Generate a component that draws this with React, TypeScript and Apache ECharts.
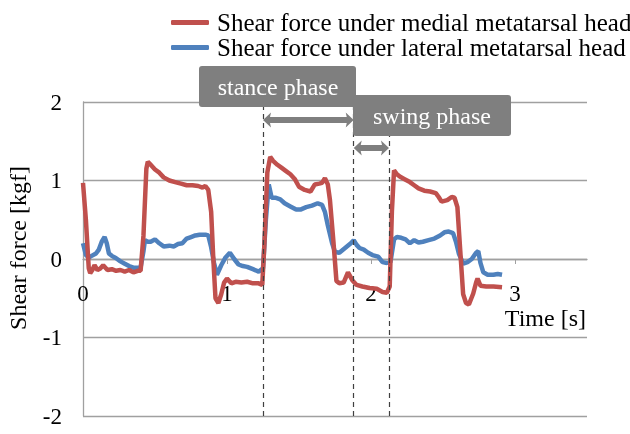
import React, { useEffect, useRef } from 'react';
import * as echarts from 'echarts';

const medialTime = [0.0, 0.02, 0.04, 0.05, 0.065, 0.08, 0.1, 0.12, 0.14, 0.17, 0.2, 0.23, 0.26, 0.29, 0.32, 0.35, 0.38, 0.4, 0.42, 0.44, 0.45, 0.47, 0.5, 0.53, 0.56, 0.6, 0.64, 0.68, 0.72, 0.76, 0.8, 0.83, 0.85, 0.87, 0.89, 0.905, 0.92, 0.94, 0.96, 0.98, 1.0, 1.03, 1.06, 1.1, 1.14, 1.18, 1.22, 1.245, 1.26, 1.28, 1.3, 1.32, 1.35, 1.38, 1.41, 1.44, 1.47, 1.5, 1.54, 1.58, 1.61, 1.64, 1.66, 1.68, 1.7, 1.715, 1.74, 1.76, 1.78, 1.81, 1.84, 1.87, 1.9, 1.94, 1.99, 2.04, 2.08, 2.11, 2.13, 2.145, 2.16, 2.18, 2.2, 2.23, 2.27, 2.3, 2.33, 2.37, 2.41, 2.45, 2.47, 2.49, 2.53, 2.56, 2.58, 2.6, 2.62, 2.64, 2.66, 2.68, 2.71, 2.73, 2.74, 2.76, 2.8, 2.85, 2.91];
const medialForce = [0.97, 0.5, -0.12, -0.18, -0.14, -0.08, -0.14, -0.12, -0.08, -0.14, -0.13, -0.15, -0.14, -0.16, -0.14, -0.17, -0.15, -0.15, 0.3, 1.15, 1.24, 1.2, 1.14, 1.1, 1.04, 1.0, 0.98, 0.96, 0.94, 0.94, 0.93, 0.91, 0.93, 0.88, 0.6, 0.0, -0.5, -0.56, -0.45, -0.3, -0.25, -0.31, -0.29, -0.3, -0.29, -0.31, -0.31, -0.33, 0.2, 1.1, 1.3, 1.25, 1.2, 1.16, 1.12, 1.08, 1.02, 0.92, 0.88, 0.86, 0.95, 0.96, 0.97, 1.03, 0.95, 0.75, 0.2, -0.28, -0.31, -0.3, -0.17, -0.27, -0.33, -0.35, -0.37, -0.38, -0.42, -0.43, -0.35, 0.6, 1.13, 1.08, 1.05, 1.02, 0.98, 0.94, 0.9, 0.87, 0.86, 0.84, 0.79, 0.73, 0.75, 0.79, 0.78, 0.66, 0.1, -0.45, -0.56, -0.58, -0.44, -0.3, -0.25, -0.34, -0.35, -0.35, -0.36];

const lateralTime = [0.0, 0.02, 0.04, 0.06, 0.09, 0.11, 0.13, 0.15, 0.165, 0.18, 0.2, 0.23, 0.26, 0.29, 0.32, 0.35, 0.38, 0.4, 0.42, 0.43, 0.45, 0.47, 0.5, 0.53, 0.56, 0.6, 0.63, 0.66, 0.69, 0.72, 0.75, 0.78, 0.81, 0.85, 0.87, 0.89, 0.91, 0.93, 0.96, 0.99, 1.02, 1.05, 1.08, 1.11, 1.14, 1.18, 1.22, 1.25, 1.27, 1.29, 1.31, 1.34, 1.37, 1.4, 1.44, 1.48, 1.51, 1.55, 1.59, 1.63, 1.66, 1.68, 1.7, 1.73, 1.75, 1.78, 1.82, 1.86, 1.88, 1.9, 1.92, 1.95, 1.98, 2.01, 2.05, 2.08, 2.11, 2.135, 2.16, 2.18, 2.21, 2.24, 2.27, 2.3, 2.33, 2.36, 2.4, 2.44, 2.48, 2.51, 2.54, 2.57, 2.59, 2.61, 2.64, 2.67, 2.7, 2.73, 2.745, 2.76, 2.78, 2.81, 2.85, 2.88, 2.91];
const lateralForce = [0.2, 0.05, 0.02, 0.04, 0.07, 0.12, 0.22, 0.28, 0.2, 0.07, 0.04, 0.01, -0.03, -0.06, -0.09, -0.11, -0.11, -0.11, 0.1, 0.24, 0.22, 0.22, 0.25, 0.2, 0.16, 0.17, 0.16, 0.19, 0.2, 0.26, 0.28, 0.3, 0.31, 0.31, 0.3, 0.15, -0.05, -0.2, -0.08, 0.02, 0.08, 0.0, -0.07, -0.09, -0.1, -0.13, -0.16, -0.12, 0.5, 0.95, 0.78, 0.78, 0.76, 0.71, 0.67, 0.63, 0.63, 0.66, 0.68, 0.71, 0.69, 0.6, 0.43, 0.2, 0.09, 0.08, 0.14, 0.2, 0.24, 0.18, 0.14, 0.12, 0.08, 0.05, 0.03, -0.04, -0.05, -0.04, 0.25, 0.28, 0.27, 0.25, 0.2, 0.24, 0.21, 0.22, 0.24, 0.26, 0.3, 0.34, 0.35, 0.33, 0.22, 0.07, -0.06, -0.04, 0.0, 0.08, 0.1, -0.05, -0.17, -0.2, -0.2, -0.19, -0.2];

const phaseBounds = [1.25, 1.88, 2.125];
const xTicks = [0, 1, 2, 3];
const seriesNames = ['Shear force under medial metatarsal head', 'Shear force under lateral metatarsal head'];
const phaseLabels = ['stance phase', 'swing phase'];

const FONT = 'Liberation Serif';
const RED = '#C0504D';
const BLUE = '#4F81BD';
const GRAY = '#7F7F7F';
const AXIS_GRAY = '#A0A0A0';

export default function App() {
  const ref = useRef<HTMLDivElement>(null);
  useEffect(() => {
    const chart = echarts.init(ref.current!, null, { renderer: 'svg' });
    const pairs = (t: number[], v: number[]) => t.map((x, i) => [x, v[i]]);
    chart.setOption({
      animation: false,
      grid: { left: 83, right: 43, top: 102, bottom: 18, outerBoundsMode: 'none', containLabel: false },
      legend: {
        orient: 'vertical',
        left: 166,
        top: 5,
        icon: 'roundRect',
        itemWidth: 38,
        itemHeight: 5,
        itemGap: 0,
        textStyle: { fontFamily: FONT, fontSize: 25, color: '#000', lineHeight: 23, padding: [0, 0, 0, 3] },
        data: seriesNames,
      },
      xAxis: {
        type: 'value',
        position: 'bottom',
        min: 0,
        max: 3.5,
        interval: 1,
        axisLine: { onZero: false, lineStyle: { color: AXIS_GRAY, width: 1.3 } },
        axisTick: { show: true, length: 5, customValues: xTicks, lineStyle: { color: AXIS_GRAY } },
        axisLabel: { customValues: xTicks, margin: 23, fontFamily: FONT, fontSize: 23, color: '#000' },
        splitLine: { show: false },
      },
      yAxis: {
        type: 'value',
        min: -2,
        max: 2,
        interval: 1,
        axisLine: { show: true, lineStyle: { color: AXIS_GRAY, width: 1.3 } },
        axisTick: { show: false },
        axisLabel: { margin: 21, fontFamily: FONT, fontSize: 23, color: '#000' },
        splitLine: { lineStyle: { color: AXIS_GRAY, width: 1.3 } },
      },
      series: [
        {
          name: seriesNames[1],
          type: 'line',
          data: pairs(lateralTime, lateralForce),
          showSymbol: false,
          z: 2,
          lineStyle: { color: BLUE, width: 4.5 },
          itemStyle: { color: BLUE },
          markLine: {
            silent: true,
            symbol: 'none',
            label: { show: false },
            lineStyle: { color: '#404040', type: [5, 4], width: 1.2 },
            data: phaseBounds.map((x) => ({ xAxis: x })),
          },
        },
        {
          name: seriesNames[0],
          type: 'line',
          data: pairs(medialTime, medialForce),
          showSymbol: false,
          z: 3,
          lineStyle: { color: RED, width: 4.5 },
          itemStyle: { color: RED },
        },
      ],
    });

    // Move the x axis up onto the y = 0 line.
    const zeroY = chart.convertToPixel({ gridIndex: 0 }, [0, 0])[1];
    const bottomY = chart.convertToPixel({ gridIndex: 0 }, [0, -2])[1];
    const px = (t: number) => chart.convertToPixel({ gridIndex: 0 }, [t, 0])[0];
    const arrow = (x1: number, x2: number, y: number) => ({
      type: 'polygon',
      z: 100,
      shape: {
        points: [
          [x1, y], [x1 + 8, y - 7.5], [x1 + 7, y - 3], [x2 - 7, y - 3], [x2 - 8, y - 7.5],
          [x2, y], [x2 - 8, y + 7.5], [x2 - 7, y + 3], [x1 + 7, y + 3], [x1 + 8, y + 7.5],
        ],
      },
      style: { fill: GRAY },
    });
    const b0 = px(phaseBounds[0]);
    const b1 = px(phaseBounds[1]);
    const b2 = px(phaseBounds[2]);
    const font = `24px "${FONT}"`;
    chart.setOption({
      xAxis: { offset: -(bottomY - zeroY) },
      graphic: [
        { type: 'rect', z: 100, shape: { x: 199, y: 66, width: 157, height: 41, r: 3 }, style: { fill: GRAY } },
        { type: 'text', z: 101, x: 278, y: 87, style: { text: phaseLabels[0], fill: '#fff', font, align: 'center', verticalAlign: 'middle' } },
        { type: 'rect', z: 102, shape: { x: 353, y: 95, width: 158, height: 41, r: 3 }, style: { fill: GRAY } },
        { type: 'text', z: 103, x: 432, y: 116, style: { text: phaseLabels[1], fill: '#fff', font, align: 'center', verticalAlign: 'middle' } },
        arrow(b0, b1, 120),
        arrow(b1, b2, 148),
        { type: 'text', x: 18, y: 248, rotation: Math.PI / 2, style: { text: 'Shear force [kgf]', fill: '#000', font, align: 'center', verticalAlign: 'middle' } },
        { type: 'text', x: 586, y: 318, style: { text: 'Time [s]', fill: '#000', font, align: 'right', verticalAlign: 'middle' } },
      ],
    });
    return () => chart.dispose();
  }, []);
  return <div ref={ref} style={{ position: 'fixed', left: 0, top: 0, width: 630, height: 434 }} />;
}
